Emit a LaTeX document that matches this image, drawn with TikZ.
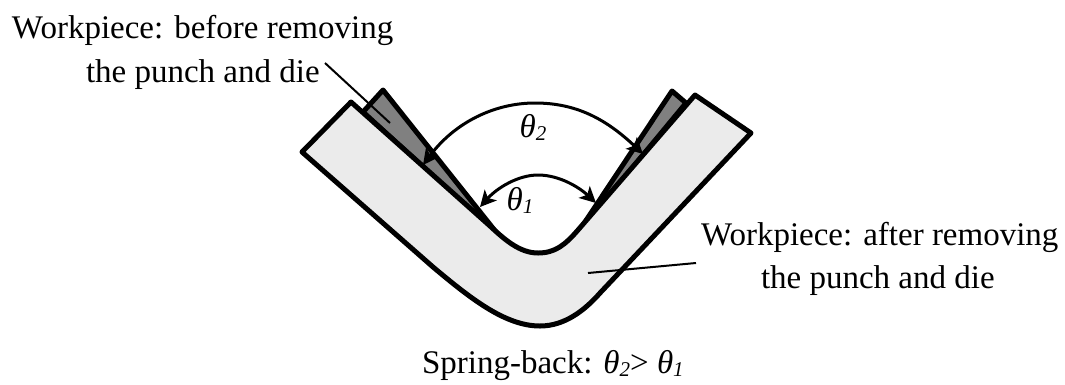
\documentclass[tikz,border=0pt]{standalone}
\usepackage{fontspec}
\setmainfont{Liberation Serif}
\usetikzlibrary{arrows.meta}
\newcommand{\lowsub}[1]{\raisebox{-3pt}{\fontsize{21}{22}\selectfont #1}}
\tikzset{
  px/.style={x=1pt,y=-1pt},
  lbl/.style={anchor=base west,inner sep=0pt,outer sep=0pt,font=\fontsize{33}{36}\selectfont},
  ang/.style={anchor=center,inner sep=0pt,font=\fontsize{33}{36}\selectfont\itshape},
  thick outline/.style={line width=5pt,line join=round,line cap=round},
  arc arrow/.style={line width=3pt,{Stealth[length=16pt,width=16pt,inset=4pt]}-{Stealth[length=16pt,width=16pt,inset=4pt]}},
  leader/.style={line width=2pt},
}
\begin{document}
\begin{tikzpicture}[px]
\useasboundingbox (0,0) rectangle (1065,384);
% punches: their tips end under the workpiece
\draw[thick outline,fill=black!50] (363,112) -- (383,90) -- (500,237) -- cycle;
\draw[thick outline,fill=black!50] (686,103) -- (672,91) -- (575,237) -- cycle;
% workpiece
\draw[thick outline,fill=black!8]
  (351,102) -- (302,152) -- (433,267)
  .. controls (470,298) and (505,326) .. (540,326)
  .. controls (565,326) and (585,310) .. (600,293)
  -- (751,133) -- (695,95) -- (578,230)
  .. controls (565,245) and (555,253) .. (538,253)
  .. controls (520,253) and (505,240) .. (490,226)
  -- cycle;
% angles
\coordinate (t2l) at (423,165);
\coordinate (t2r) at (643,154);
\coordinate (t1l) at (480,207);
\coordinate (t1r) at (596,203);
\draw[arc arrow] (t2l) .. controls (455,122) and (495,103) .. (535,103) .. controls (575,103) and (605,118) .. (t2r);
\draw[arc arrow] (t1l) .. controls (497,188) and (518,175) .. (538,175) .. controls (560,175) and (580,188) .. (t1r);
\node[ang] (theta2) at (533,127) {θ\lowsub{2}};
\node[ang] (theta1) at (520,200) {θ\lowsub{1}};
% labels
\node[lbl] (before1) at (12,38) {Workpiece: before removing};
\node[lbl] (before2) at (86,82) {the punch and die};
\node[lbl] (after1) at (701,245) {Workpiece: after removing};
\node[lbl] (after2) at (761,288) {the punch and die};
\node[lbl] (spring) at (422,373) {Spring-back: {\itshape θ\lowsub{2}}> {\itshape θ\lowsub{1}}};
% leaders
\coordinate (lb1) at (325,63);
\coordinate (lb2) at (390,123);
\coordinate (la1) at (696,263);
\coordinate (la2) at (588,273);
\draw[leader] (lb1) -- (lb2);
\draw[leader] (la1) -- (la2);
\end{tikzpicture}
\end{document}
